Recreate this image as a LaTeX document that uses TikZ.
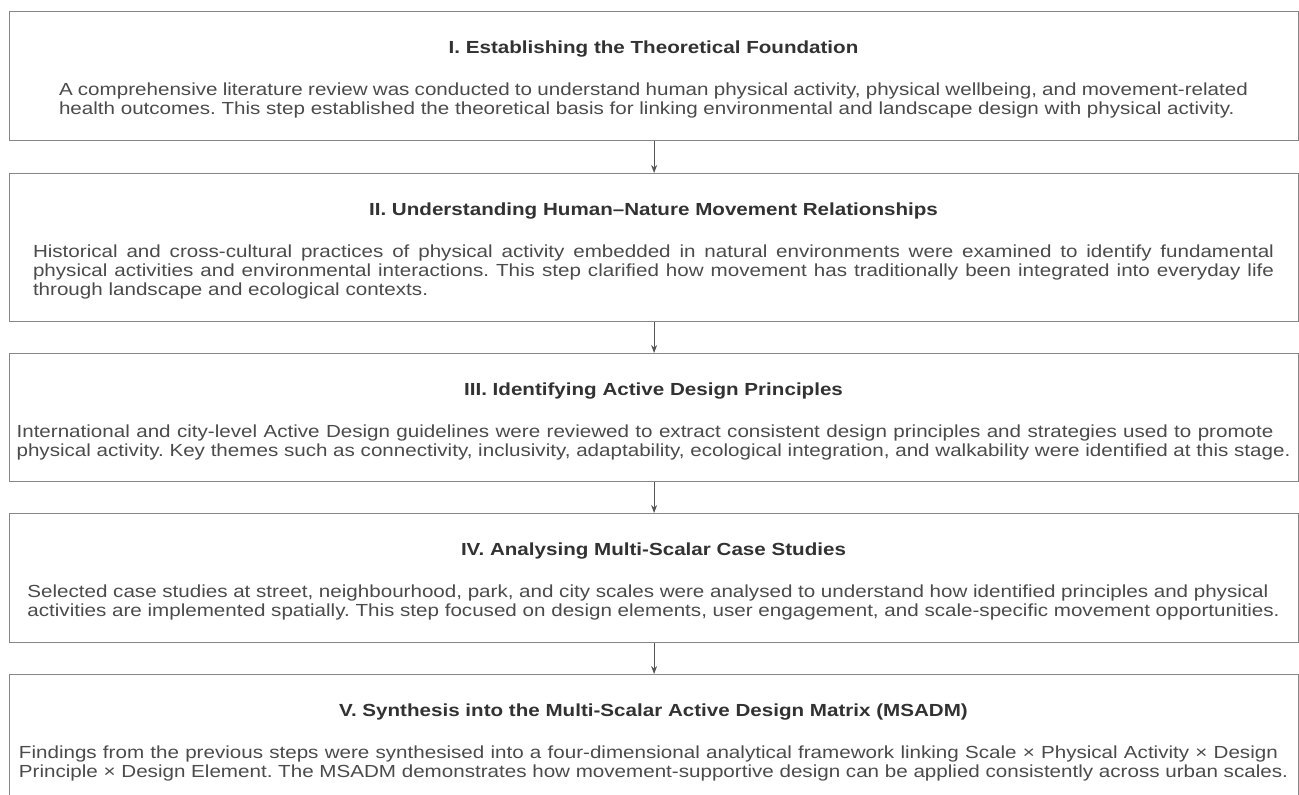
\documentclass[tikz,border=0pt]{standalone}
\usepackage{fontspec}
\setmainfont{Liberation Sans}[FakeStretch=1.177]
\usetikzlibrary{arrows.meta}
\frenchspacing

\definecolor{framegray}{RGB}{135,135,135}
\definecolor{bodygray}{RGB}{75,75,75}
\definecolor{headgray}{RGB}{50,50,50}
\definecolor{arrowgray}{RGB}{85,85,85}

% a justified line spanning the paragraph width, and a final ragged line
\newcommand\fullline[1]{\hbox to \hsize{#1}}
\newcommand\lastline[1]{\hbox{#1}}
% paragraph block of given width whose baseline is that of its first line
\newcommand\stepparagraph[2]{\vtop{\hsize=#1\relax #2}}

\begin{document}
\begin{tikzpicture}[x=1pt,y=-1pt,
  stepbox/.style={draw=framegray, line width=1.2pt, fill=white,
    minimum width=1289pt, anchor=north west, inner sep=0pt},
  steptitle/.style={font=\fontsize{17.5}{19}\selectfont\bfseries,
    text=headgray, anchor=base, inner sep=0pt},
  stepbody/.style={font=\fontsize{17.5}{19}\selectfont,
    text=bodygray, anchor=base, inner sep=0pt},
  flow/.style={draw=arrowgray, line width=1pt,
    -{Stealth[length=8pt,width=6pt]}}]

\clip (0,0) rectangle (1299,795);
\fill[white] (0,0) rectangle (1299,795);

% frames of the five steps
\node[stepbox, minimum height=129pt] (b1) at (9,11) {};
\node[stepbox, minimum height=148pt] (b2) at (9,173) {};
\node[stepbox, minimum height=128pt] (b3) at (9,353) {};
\node[stepbox, minimum height=129pt] (b4) at (9,513) {};
\node[stepbox, minimum height=129pt] (b5) at (9,674) {};

% step I
\node[steptitle] (t1) at (653.5,53) {I. Establishing the Theoretical Foundation};
\node[stepbody] (p1) at (653.5,95) {\stepparagraph{1189pt}{%
  \fullline{A comprehensive literature review was conducted to understand human physical activity, physical wellbeing, and movement-related}
  \lastline{health outcomes. This step established the theoretical basis for linking environmental and landscape design with physical activity.}}};

% step II
\node[steptitle] (t2) at (653.5,215) {II. Understanding Human--Nature Movement Relationships};
\node[stepbody] (p2) at (653.5,257) {\stepparagraph{1241pt}{%
  \fullline{Historical and cross-cultural practices of physical activity embedded in natural environments were examined to identify fundamental}
  \fullline{physical activities and environmental interactions. This step clarified how movement has traditionally been integrated into everyday life}
  \lastline{through landscape and ecological contexts.}}};

% step III
\node[steptitle] (t3) at (653.5,395) {III. Identifying Active Design Principles};
\node[stepbody] (p3) at (653.5,437) {\stepparagraph{1257pt}{%
  \fullline{International and city-level Active Design guidelines were reviewed to extract consistent design principles and strategies used to promote}
  \lastline{physical activity. Key themes such as connectivity, inclusivity, adaptability, ecological integration, and walkability were identified at this stage.}}};

% step IV
\node[steptitle] (t4) at (653.5,555) {IV. Analysing Multi-Scalar Case Studies};
\node[stepbody] (p4) at (653.5,597) {\stepparagraph{1241pt}{%
  \fullline{Selected case studies at street, neighbourhood, park, and city scales were analysed to understand how identified principles and physical}
  \lastline{activities are implemented spatially. This step focused on design elements, user engagement, and scale-specific movement opportunities.}}};

% step V
\node[steptitle] (t5) at (653.5,716) {V. Synthesis into the Multi-Scalar Active Design Matrix (MSADM)};
\node[stepbody] (p5) at (653.5,758) {\stepparagraph{1259pt}{%
  \fullline{Findings from the previous steps were synthesised into a four-dimensional analytical framework linking Scale × Physical Activity × Design}
  \lastline{Principle × Design Element. The MSADM demonstrates how movement-supportive design can be applied consistently across urban scales.}}};

% flow between the steps
\draw[flow] (b1.south) -- (b2.north);
\draw[flow] (b2.south) -- (b3.north);
\draw[flow] (b3.south) -- (b4.north);
\draw[flow] (b4.south) -- (b5.north);
\end{tikzpicture}
\end{document}
